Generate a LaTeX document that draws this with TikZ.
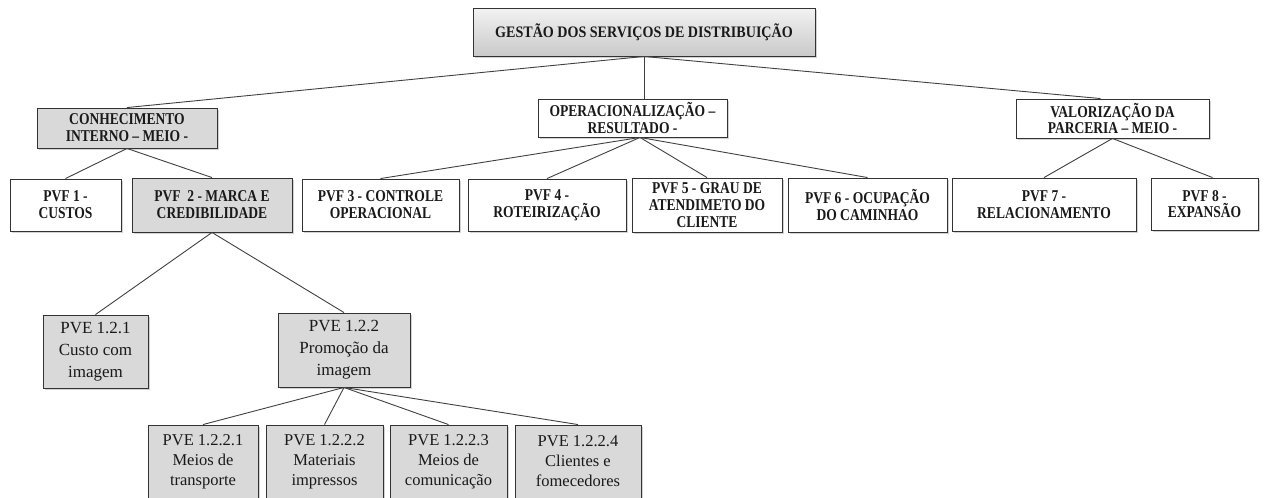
\documentclass[tikz,border=0pt]{standalone}
\usepackage{fontspec}
\setmainfont{Liberation Serif}
\newfontfamily\headfont[FakeStretch=0.82]{Liberation Serif}
\newfontfamily\rootfont[FakeStretch=0.88]{Liberation Serif}
\usetikzlibrary{shadows}
\tikzset{
  box/.style={draw=black!80, line width=0.9pt, inner sep=0pt, align=center, text=black!90,
    drop shadow={shadow xshift=2pt, shadow yshift=-2pt, opacity=0.35}},
  wbox/.style={box, fill=white},
  gbox/.style={box, fill=gray!30},
  rootbox/.style={box, top color=gray!10, bottom color=gray!42},
  headtxt/.style={font=\headfont\bfseries\fontsize{16.5}{16.8}\selectfont},
  roottxt/.style={font=\rootfont\bfseries\fontsize{16}{18}\selectfont},
  pvetxt/.style={font=\fontsize{17}{22}\selectfont},
  pvesub/.style={font=\fontsize{16.5}{20}\selectfont},
  link/.style={draw=black!75, line width=0.9pt}
}
\begin{document}
\begin{tikzpicture}[x=1pt,y=-1pt]
\useasboundingbox (0,0) rectangle (1267,498);
% level 0
\node[rootbox, roottxt, minimum width=342, minimum height=48] (root) at (644,32) {GESTÃO DOS SERVIÇOS DE DISTRIBUIÇÃO};
% level 1
\node[gbox, headtxt, minimum width=180, minimum height=40] (conh) at (127,128) {CONHECIMENTO\\INTERNO – MEIO -};
\node[wbox, headtxt, minimum width=189, minimum height=38] (oper) at (632.5,118) {OPERACIONALIZAÇÃO –\\RESULTADO -};
\node[wbox, headtxt, minimum width=193, minimum height=39] (valor) at (1112.5,118.5) {VALORIZAÇÃO DA\\PARCERIA – MEIO -};
% level 2
\node[wbox, headtxt, minimum width=111, minimum height=52] (pvf1) at (65.5,205) {PVF 1 -\\CUSTOS};
\node[gbox, headtxt, minimum width=160, minimum height=54] (pvf2) at (212,205) {PVF\ \ 2 - MARCA E\\CREDIBILIDADE};
\node[wbox, headtxt, minimum width=157, minimum height=52] (pvf3) at (380.5,205) {PVF 3 - CONTROLE\\OPERACIONAL};
\node[wbox, headtxt, minimum width=158, minimum height=52] (pvf4) at (547,205) {PVF 4 -\\ROTEIRIZAÇÃO};
\node[wbox, headtxt, minimum width=150, minimum height=54] (pvf5) at (707,205) {PVF 5 - GRAU DE\\ATENDIMETO DO\\CLIENTE};
\node[wbox, headtxt, minimum width=159, minimum height=54] (pvf6) at (867.5,205) {PVF 6 - OCUPAÇÃO\\DO CAMINHAO};
\node[wbox, headtxt, minimum width=184, minimum height=53] (pvf7) at (1044,204.5) {PVF 7 -\\RELACIONAMENTO};
\node[wbox, headtxt, minimum width=107, minimum height=52] (pvf8) at (1204.5,204) {PVF 8 -\\EXPANSÃO};
% level 3
\node[gbox, pvetxt, minimum width=105, minimum height=73] (pve121) at (95.5,351.5) {PVE 1.2.1\\Custo com\\imagem};
\node[gbox, pvetxt, minimum width=132, minimum height=74] (pve122) at (344,350) {PVE 1.2.2\\Promoção da\\imagem};
% level 4
\node[gbox, pvesub, minimum width=110, minimum height=73] (pvea) at (203,461.5) {PVE 1.2.2.1\\Meios de\\transporte};
\node[gbox, pvesub, minimum width=117, minimum height=73] (pveb) at (324.5,461.5) {PVE 1.2.2.2\\Materiais\\impressos};
\node[gbox, pvesub, minimum width=117, minimum height=73] (pvec) at (448.5,461.5) {PVE 1.2.2.3\\Meios de\\comunicação};
\node[gbox, pvesub, minimum width=126, minimum height=73] (pved) at (578,461.5) {PVE 1.2.2.4\\Clientes e\\fomecedores};
% connectors
\draw[link] (root.south) -- (conh.north);
\draw[link] (root.south) -- (oper.north -| root.south);
\draw[link] (root.south) -- ([xshift=-12pt]valor.north);
\draw[link] (conh.south) -- (pvf1.north);
\draw[link] (conh.south) -- (pvf2.north);
\draw[link] ([xshift=7.5pt]oper.south) -- (pvf3.north);
\draw[link] ([xshift=7.5pt]oper.south) -- (pvf4.north);
\draw[link] ([xshift=7.5pt]oper.south) -- (pvf5.north);
\draw[link] ([xshift=7.5pt]oper.south) -- (pvf6.north);
\draw[link] (valor.south) -- (pvf7.north);
\draw[link] (valor.south) -- ([xshift=8pt]pvf8.north);
\draw[link] (pvf2.south) -- (pve121.north);
\draw[link] (pvf2.south) -- (pve122.north);
\draw[link] (pve122.south) -- (pvea.north);
\draw[link] (pve122.south) -- (pveb.north);
\draw[link] (pve122.south) -- (pvec.north);
\draw[link] (pve122.south) -- (pved.north);
\end{tikzpicture}
\end{document}
